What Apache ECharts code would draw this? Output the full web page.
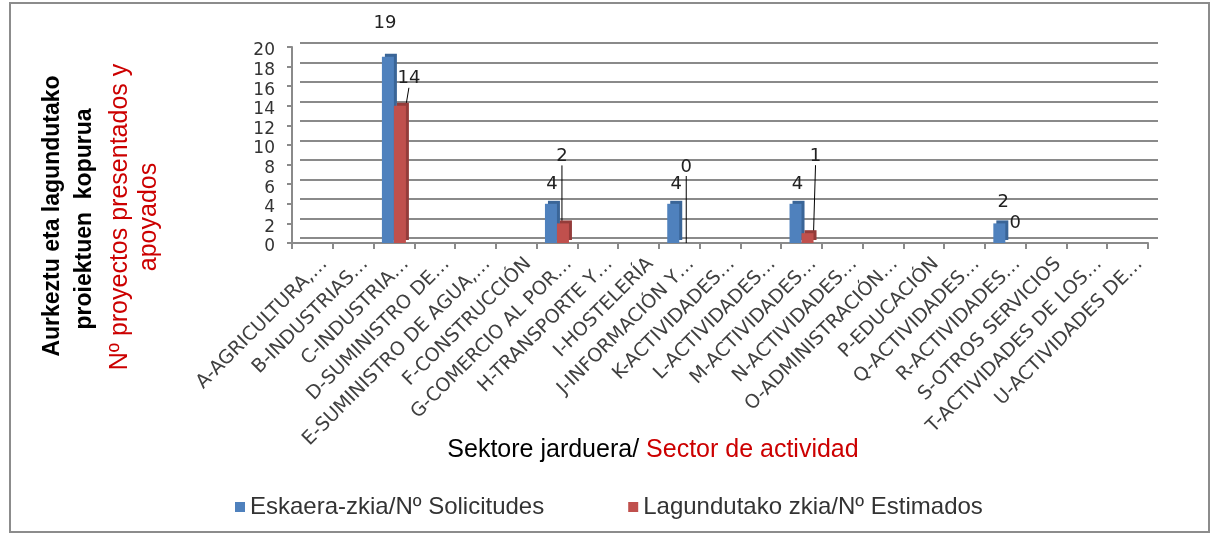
<!DOCTYPE html>
<html>
<head>
<meta charset="utf-8">
<script src="https://cdn.jsdelivr.net/npm/echarts@6/dist/echarts.min.js"></script>
<style>
  html, body { margin: 0; padding: 0; background: #fff; }
  #chart { width: 1217px; height: 539px; }
</style>
</head>
<body>
<div id="chart"></div>
<script>
// sectores (etiquetas tal como salen cortadas en el original)
var categories = [
    'A-AGRICULTURA,…', 'B-INDUSTRIAS…', 'C-INDUSTRIA…', 'D-SUMINISTRO DE…',
    'E-SUMINISTRO DE AGUA,…', 'F-CONSTRUCCIÓN', 'G-COMERCIO AL POR…', 'H-TRANSPORTE Y…',
    'I-HOSTELERÍA', 'J-INFORMACIÓN Y…', 'K-ACTIVIDADES…', 'L-ACTIVIDADES…',
    'M-ACTIVIDADES…', 'N-ACTIVIDADES…', 'O-ADMINISTRACIÓN…', 'P-EDUCACIÓN',
    'Q-ACTIVIDADES…', 'R-ACTIVIDADES…', 'S-OTROS SERVICIOS', 'T-ACTIVIDADES DE LOS…',
    'U-ACTIVIDADES DE…'
];
var solicitudes = [null, null, 19, null, null, null, 4, null, null, 4, null, null, 4, null, null, null, null, 2, null, null, null];
var estimados = [null, null, 14, null, null, null, 2, null, null, 0, null, null, 1, null, null, null, null, 0, null, null, null];
var seriesNames = ['Eskaera-zkia/Nº Solicitudes', 'Lagundutako zkia/Nº Estimados'];

// desplazamiento de etiquetas (como en el excel, con linea guia en las rojas)
var blueShift = {2: [-3, -19], 6: [1, -5], 9: [3, -5], 12: [2, -5], 17: [4, -7]};
var redShift = {2: [9, -13], 6: [-1, -53], 9: [1, -62], 12: [8, -63], 17: [4, -6]};
var noGuide = {17: true};

var numFont = 'DejaVu Sans';
var txtFont = 'Liberation Sans';

var redData = estimados.map(function (v, i) {
    return {value: v, labelLine: {show: !noGuide[i]}};
});

var myChart = echarts.init(document.getElementById('chart'));
var option = {
    backgroundColor: '#FFFFFF',
    animation: false,
    grid: [
        // pared del fondo (lineas de division)
        {left: 300, right: 59, top: 43, bottom: 301},
        // plano frontal con las barras
        {left: 292, right: 69, top: 47, bottom: 296}
    ],
    legend: {
        data: seriesNames,
        left: 230,
        top: 490,
        icon: 'rect',
        itemWidth: 10,
        itemHeight: 10,
        itemGap: 84,
        textStyle: {fontFamily: txtFont, fontSize: 24, color: '#333'}
    },
    xAxis: [{
        gridIndex: 0,
        type: 'category',
        data: categories,
        show: false
    }, {
        gridIndex: 1,
        type: 'category',
        data: categories,
        axisLine: {lineStyle: {color: '#8a8a8a', width: 2}},
        axisTick: {show: true, length: 6, lineStyle: {color: '#8a8a8a', width: 2}},
        axisLabel: {
            interval: 0,
            rotate: 45,
            margin: 6,
            align: 'right',
            verticalAlign: 'top',
            lineHeight: 34,
            fontFamily: numFont,
            fontSize: 19,
            color: '#404040'
        }
    }],
    yAxis: [{
        gridIndex: 0,
        type: 'value',
        min: 0,
        max: 20,
        interval: 2,
        axisLine: {show: false},
        axisTick: {show: false},
        axisLabel: {show: false},
        splitLine: {lineStyle: {color: '#8a8a8a', width: 2}}
    }, {
        gridIndex: 1,
        type: 'value',
        min: 0,
        max: 20,
        interval: 2,
        axisLine: {show: true, lineStyle: {color: '#8a8a8a', width: 2}},
        axisTick: {show: true, length: 5, lineStyle: {color: '#8a8a8a', width: 2}},
        axisLabel: {
            margin: 17,
            verticalAlign: 'top',
            lineHeight: 8,
            fontFamily: numFont,
            fontSize: 17,
            color: '#333'
        },
        splitLine: {show: false}
    }],
    series: [{
        name: seriesNames[0],
        type: 'bar',
        xAxisIndex: 1,
        yAxisIndex: 1,
        data: solicitudes,
        barWidth: 12,
        barGap: '0%',
        itemStyle: {
            color: '#4F81BD',
            shadowColor: '#3A6597',
            shadowOffsetX: 3,
            shadowOffsetY: -3,
            shadowBlur: 0
        },
        label: {
            show: true,
            position: 'top',
            fontFamily: numFont,
            fontSize: 18,
            color: '#222'
        },
        labelLayout: function (params) {
            var s = blueShift[params.dataIndex] || [0, 0];
            return {dx: s[0], dy: s[1]};
        }
    }, {
        name: seriesNames[1],
        type: 'bar',
        xAxisIndex: 1,
        yAxisIndex: 1,
        data: redData,
        barWidth: 12,
        itemStyle: {
            color: '#C0504D',
            shadowColor: '#943C3A',
            shadowOffsetX: 3,
            shadowOffsetY: -3,
            shadowBlur: 0
        },
        label: {
            show: true,
            position: 'top',
            fontFamily: numFont,
            fontSize: 18,
            color: '#222'
        },
        labelLine: {
            show: true,
            length2: 0,
            lineStyle: {color: '#000', width: 1}
        },
        labelLayout: function (params) {
            var s = redShift[params.dataIndex] || [0, 0];
            return {dx: s[0], dy: s[1]};
        }
    }],
    graphic: [{
        type: 'rect',
        shape: {x: 10, y: 3, width: 1199, height: 529},
        style: {fill: 'none', stroke: '#8c8c8c', lineWidth: 2},
        silent: true
    }, {
        type: 'text',
        x: 53, y: 216, rotation: Math.PI / 2,
        style: {text: 'Aurkeztu eta lagundutako', fill: '#000', font: 'bold 23px "Liberation Sans"', align: 'center', verticalAlign: 'middle'}
    }, {
        type: 'text',
        x: 85, y: 219, rotation: Math.PI / 2,
        style: {text: 'proiektuen  kopurua', fill: '#000', font: 'bold 23px "Liberation Sans"', align: 'center', verticalAlign: 'middle'}
    }, {
        type: 'text',
        x: 120, y: 217, rotation: Math.PI / 2,
        style: {text: 'Nº proyectos presentados y', fill: '#CC0000', font: '25px "Liberation Sans"', align: 'center', verticalAlign: 'middle'}
    }, {
        type: 'text',
        x: 149, y: 217, rotation: Math.PI / 2,
        style: {text: 'apoyados', fill: '#CC0000', font: '25px "Liberation Sans"', align: 'center', verticalAlign: 'middle'}
    }, {
        type: 'text',
        x: 653, y: 450,
        style: {
            text: '{a|Sektore jarduera/ }{b|Sector de actividad}',
            align: 'center',
            verticalAlign: 'middle',
            rich: {
                a: {fontFamily: txtFont, fontSize: 25, fill: '#000', color: '#000'},
                b: {fontFamily: txtFont, fontSize: 25, fill: '#CC0000', color: '#CC0000'}
            }
        }
    }]
};
myChart.setOption(option);
</script>
</body>
</html>
